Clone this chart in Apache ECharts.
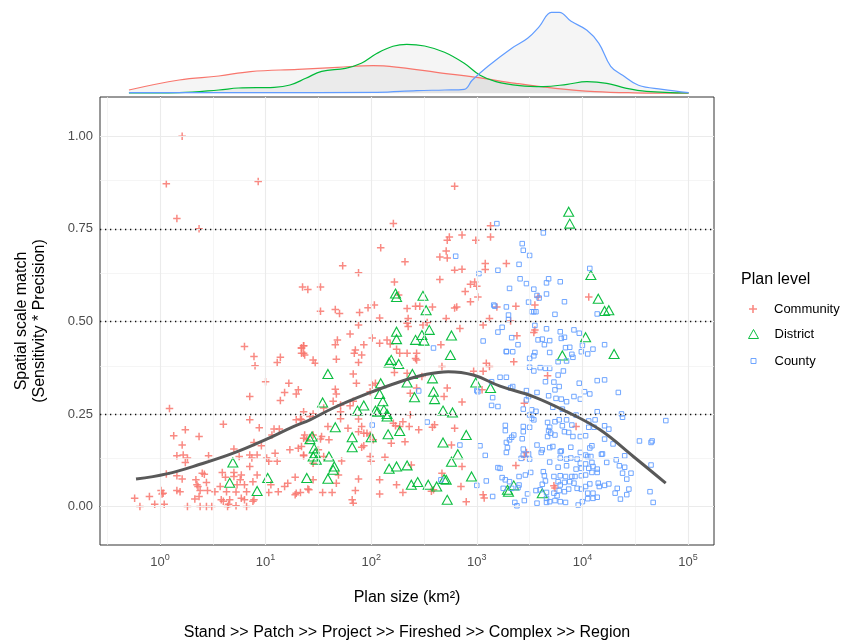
<!DOCTYPE html>
<html><head><meta charset="utf-8">
<script src="https://cdn.jsdelivr.net/npm/echarts@6/dist/echarts.min.js"></script>
<style>html,body{margin:0;padding:0;background:#fff}#c{width:857px;height:640px}</style>
</head><body><div id="c"></div>
<script>
// x = log10(plan size, km²), y = spatial scale match
const communityPts = [[0.21,1.00],[0.06,0.872],[0.93,0.878],[0.16,0.778],[0.37,0.75],[1.35,0.593],[1.40,0.586],
[2.79,0.865],[2.21,0.764],[3.13,0.758],[2.74,0.728],[2.72,0.719],[2.86,0.733],[2.99,0.719],[3.13,0.728],[2.09,0.699],[2.71,0.690],[2.65,0.674],[2.72,0.671],[2.32,0.661],[1.73,0.650],[1.88,0.631],[2.79,0.638],[2.86,0.641],[3.08,0.656],[3.08,0.640],[3.28,0.656],[2.65,0.613],[2.22,0.606],[1.52,0.593],[2.94,0.600],[2.98,0.606],[3.00,0.595],[2.89,0.581],[2.26,0.571],[3.01,0.566],[2.94,0.553],[2.34,0.535],[2.42,0.541],[2.46,0.541],[2.58,0.539],[1.97,0.537],[2.03,0.544],[1.52,0.527],[1.66,0.532],[1.70,0.521],[1.89,0.524],[2.79,0.536],[2.81,0.539],[3.19,0.539],[2.08,0.509],[2.35,0.508],[2.71,0.508],[3.12,0.508],
[3.58,0.566],[4.06,0.566],[3.37,0.541],[3.55,0.544],[3.32,0.501],
[0.80,0.432],[0.89,0.405],[0.90,0.380],[1.14,0.403],[1.11,0.389],[1.34,0.428],[1.36,0.434],[1.36,0.414],[1.00,0.337],[1.22,0.333],[1.18,0.308],[1.31,0.315],[1.29,0.304],[1.14,0.286],[0.85,0.297],[0.09,0.265],[0.85,0.234],[0.60,0.222],[0.94,0.213],[0.24,0.207],[0.13,0.191],[0.37,0.189],[1.08,0.209],[1.13,0.209],[1.06,0.193],[1.29,0.234],[1.33,0.236],[1.36,0.184],[0.21,0.166],[0.89,0.173],[1.31,0.157],[1.23,0.153],[0.96,0.164],[0.70,0.155],[0.16,0.137],[0.22,0.139],[0.26,0.131],[0.24,0.119],[0.46,0.137],[0.75,0.135],[0.85,0.139],[0.87,0.131],[0.92,0.139],[1.01,0.131],[1.03,0.122],[1.09,0.144],[1.11,0.122],[1.36,0.137],[0.85,0.108],[0.06,0.088],[0.16,0.083],[0.21,0.074],[0.40,0.090],[0.42,0.087],[0.59,0.092],[0.62,0.079],[0.70,0.092],[0.70,0.081],[0.77,0.085],[0.76,0.072],[0.92,0.085],[1.05,0.059],[1.28,0.079],[1.41,0.045],[0.34,0.072],[0.35,0.059],[0.36,0.054],[0.44,0.065],[0.57,0.054],[0.73,0.059],[0.80,0.059],[0.88,0.067],[1.21,0.063],[1.18,0.054],[0.38,0.043],[0.45,0.043],[0.52,0.040],[0.63,0.040],[0.72,0.039],[0.82,0.040],[1.03,0.038],[1.12,0.040],[1.29,0.036],[1.33,0.038],[0.16,0.043],[0.19,0.040],[0.01,0.043],[0.03,0.036],[0.02,0.034],[-0.10,0.027],[-0.24,0.022],[-0.19,0.000],[-0.05,0.006],[0.04,0.006],[0.26,0.000],[0.38,0.000],[0.44,0.000],[0.49,0.000],[0.33,0.020],[0.37,0.027],[0.58,0.018],[0.60,0.014],[0.65,0.006],[0.64,0.000],[0.72,0.002],[0.82,0.000],[0.77,0.022],[0.80,0.018],[0.89,0.018],[0.88,0.014],[0.66,0.018],[1.28,0.032],
[1.88,0.490],[2.34,0.495],[2.35,0.486],[2.49,0.490],[2.53,0.497],[2.84,0.481],[3.06,0.490],[1.80,0.466],[2.01,0.455],[2.08,0.441],[2.15,0.450],[2.18,0.439],[1.66,0.437],[1.68,0.450],[1.36,0.434],[1.34,0.428],[1.85,0.423],[1.84,0.414],[1.93,0.437],[1.91,0.409],[2.24,0.425],[2.27,0.414],[2.34,0.414],[2.66,0.437],[2.43,0.414],[2.42,0.400],[1.34,0.414],[1.37,0.409],[1.45,0.396],[1.47,0.387],[1.67,0.398],[1.88,0.389],[2.43,0.396],[2.67,0.378],[2.22,0.362],[1.83,0.358],[2.34,0.360],[2.48,0.351],[2.97,0.365],[3.09,0.387],[3.12,0.378],[3.06,0.365],[1.86,0.333],[2.01,0.328],[2.04,0.333],[2.72,0.320],[2.43,0.320],[3.05,0.315],[2.37,0.306],[1.66,0.317],[1.67,0.304],[1.99,0.310],[2.69,0.297],[2.86,0.282],[1.64,0.284],[1.71,0.274],[1.83,0.284],[1.80,0.272],[1.55,0.266],[1.71,0.256],[1.36,0.256],[1.45,0.250],[1.42,0.243],[2.37,0.248],[1.88,0.236],[1.71,0.237],[1.34,0.234],[2.21,0.225],[2.23,0.218],[2.27,0.216],[2.36,0.216],[2.60,0.221],[2.58,0.214],[2.79,0.211],[2.30,0.229],[1.59,0.216],[1.91,0.216],[1.78,0.211],[1.88,0.202],[1.93,0.198],[1.96,0.198],[1.99,0.193],[2.45,0.207],[1.45,0.193],[1.37,0.193],[1.39,0.180],[1.52,0.182],[1.53,0.189],[1.60,0.180],[2.02,0.180],[1.91,0.160],[1.93,0.164],[2.19,0.171],[2.32,0.175],[2.76,0.166],[1.34,0.162],[1.36,0.139],[1.50,0.153],[1.55,0.135],[1.72,0.123],[1.99,0.135],[2.00,0.122],[2.13,0.133],[1.45,0.117],[2.38,0.112],[2.86,0.108],[1.69,0.085],[1.67,0.063],[1.45,0.072],[1.88,0.074],[2.08,0.072],[2.67,0.090],[2.24,0.059],[2.59,0.045],[2.57,0.041],[2.85,0.054],[1.40,0.047],[1.54,0.038],[1.63,0.038],[1.85,0.043],[2.30,0.038],[2.08,0.034],[1.82,0.018],[1.83,0.009],[2.90,0.013],[3.06,0.032],[3.07,0.023],
[3.55,0.477],[3.54,0.470],[3.38,0.461],[3.35,0.391],[3.67,0.353],[3.45,0.279],[3.94,0.216],[3.47,0.146],[3.45,0.135],[3.37,0.111],[3.73,0.056],[3.74,0.050]];

const districtPts = [[3.87,0.796],[3.88,0.764],[4.08,0.625],[4.15,0.561],[4.21,0.528],[4.25,0.530],
[2.24,0.566],[2.23,0.575],[2.49,0.569],[2.52,0.530],
[0.69,0.119],[1.02,0.077],[1.39,0.077],[0.66,0.064],[0.92,0.042],
[2.24,0.472],[2.55,0.477],[2.48,0.463],[2.42,0.450],[2.50,0.448],[2.76,0.462],[2.24,0.452],[2.75,0.409],[2.19,0.396],[2.17,0.389],[2.26,0.385],[1.59,0.358],[2.39,0.358],[2.58,0.346],[2.99,0.335],[3.13,0.320],[2.09,0.333],[2.34,0.335],[2.59,0.310],[2.60,0.290],[2.41,0.295],[2.08,0.304],[1.54,0.281],[2.11,0.284],[1.93,0.273],[1.87,0.259],[2.04,0.259],[2.06,0.256],[2.12,0.261],[2.15,0.250],[2.15,0.243],[2.68,0.259],[2.77,0.254],[1.66,0.214],[2.16,0.195],[2.27,0.204],[2.90,0.193],[1.44,0.189],[1.42,0.182],[1.82,0.187],[1.82,0.160],[2.00,0.187],[2.68,0.173],[1.46,0.157],[1.47,0.144],[1.48,0.126],[1.45,0.135],[1.60,0.135],[2.82,0.141],[2.76,0.121],[1.65,0.108],[1.64,0.099],[2.17,0.102],[2.24,0.108],[2.34,0.111],[1.59,0.075],[2.69,0.074],[2.71,0.072],[2.95,0.081],[2.38,0.059],[2.44,0.066],[2.54,0.059],[2.62,0.054],[2.72,0.018],[3.29,0.045],
[4.03,0.457],[3.81,0.408],[4.30,0.412],[3.35,0.057],[3.30,0.040],[3.62,0.036]];

const countyPts = [[3.19,0.764],[2.80,0.676],[3.20,0.638],[3.02,0.629],[3.31,0.589],[3.16,0.544],[3.17,0.541],[3.28,0.539],[3.30,0.517],
[3.63,0.739],[3.43,0.710],[3.44,0.692],[3.50,0.678],[3.40,0.654],[4.07,0.643],[3.41,0.615],[3.68,0.615],[3.66,0.604],[3.79,0.607],[3.47,0.602],[3.54,0.587],[3.57,0.570],[3.59,0.563],[3.66,0.574],[3.83,0.553],[3.49,0.552],[3.52,0.526],[3.54,0.526],[3.56,0.526],[4.14,0.520],[3.74,0.519],[3.30,0.505],
[3.24,0.484],[3.20,0.471],[3.06,0.447],[2.59,0.428],[3.28,0.419],[3.22,0.349],[3.28,0.349],[3.14,0.337],[2.45,0.312],[3.01,0.310],[3.00,0.313],[3.15,0.294],[3.14,0.273],[3.20,0.270],[2.53,0.228],[2.01,0.220],[2.84,0.166],[3.03,0.164],[3.08,0.138],[3.20,0.105],[2.66,0.072],[3.09,0.069],[3.00,0.057],[3.15,0.027],
[3.55,0.489],[3.66,0.480],[3.79,0.472],[3.92,0.477],[3.97,0.468],[3.33,0.456],[3.58,0.450],[3.62,0.452],[3.69,0.448],[3.80,0.454],[3.83,0.457],[3.39,0.437],[3.64,0.437],[4.21,0.437],[4.00,0.435],[3.84,0.429],[3.88,0.430],[4.10,0.425],[3.28,0.418],[3.34,0.418],[3.55,0.416],[3.54,0.407],[3.69,0.416],[3.99,0.418],[4.05,0.412],[3.90,0.411],[3.91,0.403],[3.50,0.400],[3.77,0.391],[3.85,0.393],[3.50,0.376],[3.54,0.366],[3.60,0.375],[3.65,0.373],[3.69,0.373],[3.82,0.366],[3.77,0.355],[3.65,0.337],[3.73,0.336],[3.97,0.333],[4.14,0.340],[4.21,0.342],[3.34,0.324],[3.32,0.320],[3.74,0.315],[3.78,0.324],[3.47,0.313],[3.57,0.308],[4.02,0.310],[4.07,0.304],[3.92,0.297],[3.98,0.290],[4.34,0.308],[3.68,0.299],[3.75,0.292],[3.80,0.290],[3.85,0.283],[3.49,0.297],[3.47,0.288],[3.72,0.268],[3.81,0.263],[3.44,0.263],[3.52,0.261],[3.56,0.257],[4.14,0.256],[3.94,0.247],[4.37,0.250],[4.38,0.241],[4.79,0.232],[3.50,0.247],[3.52,0.238],[3.54,0.234],[3.78,0.234],[3.85,0.234],[3.67,0.227],[3.74,0.229],[4.06,0.231],[4.12,0.234],[3.27,0.219],[3.44,0.216],[3.50,0.214],[3.69,0.214],[3.81,0.218],[3.90,0.220],[4.06,0.214],[4.11,0.214],[4.21,0.218],[4.25,0.209],[3.27,0.205],[3.35,0.193],[3.33,0.187],[3.31,0.180],[3.44,0.202],[3.43,0.183],[3.68,0.205],[3.70,0.198],[3.74,0.193],[3.67,0.189],[3.83,0.202],[3.87,0.200],[3.91,0.189],[3.98,0.189],[4.03,0.191],[4.21,0.182],[3.28,0.173],[3.29,0.159],[3.28,0.146],[3.57,0.166],[3.69,0.159],[3.72,0.162],[3.62,0.153],[3.61,0.146],[3.80,0.150],[3.89,0.160],[4.07,0.158],[4.09,0.164],[4.29,0.169],[4.54,0.177],[4.65,0.173],[4.66,0.177],[3.44,0.155],[3.44,0.139],[3.49,0.142],[3.50,0.128],[3.42,0.130],[3.98,0.146],[4.03,0.139],[4.05,0.135],[4.18,0.141],[4.19,0.142],[3.79,0.148],[3.79,0.131],[3.85,0.128],[3.89,0.131],[3.95,0.128],[4.08,0.135],[4.09,0.119],[4.32,0.126],[3.69,0.120],[4.03,0.115],[3.98,0.117],[4.23,0.119],[4.40,0.137],[4.35,0.110],[4.40,0.106],[3.77,0.106],[3.85,0.110],[3.94,0.101],[3.99,0.103],[4.06,0.103],[4.10,0.108],[4.14,0.101],[4.09,0.092],[4.14,0.092],[4.65,0.112],[3.51,0.092],[3.46,0.085],[3.40,0.081],[3.63,0.094],[3.64,0.083],[3.22,0.103],[4.46,0.090],[4.38,0.090],[4.42,0.074],[3.73,0.081],[3.79,0.083],[3.84,0.081],[3.90,0.081],[3.93,0.081],[3.99,0.083],[4.03,0.085],[3.24,0.078],[3.27,0.072],[3.31,0.067],[3.25,0.049],[3.33,0.049],[3.40,0.058],[3.39,0.051],[3.65,0.069],[3.62,0.060],[3.60,0.045],[3.77,0.067],[3.83,0.065],[3.79,0.058],[3.88,0.067],[3.92,0.063],[4.07,0.061],[4.15,0.063],[4.16,0.054],[4.21,0.057],[4.25,0.061],[3.95,0.049],[3.87,0.047],[4.03,0.054],[4.33,0.049],[4.44,0.047],[4.64,0.040],[3.56,0.043],[3.48,0.034],[3.66,0.038],[3.73,0.036],[3.76,0.029],[3.83,0.040],[3.78,0.043],[3.99,0.047],[4.05,0.036],[4.10,0.036],[4.14,0.025],[4.10,0.022],[4.31,0.036],[4.42,0.032],[4.36,0.020],[3.45,0.016],[3.36,0.011],[3.38,0.002],[3.57,0.009],[3.66,0.011],[3.69,0.013],[3.74,0.016],[3.79,0.013],[3.84,0.011],[4.05,0.021],[4.00,0.013],[3.96,0.004],[4.67,0.011],[3.66,0.022]];

// smoothed trend (log10 size, match)
const smoothFit = [[-0.227,0.074],[0.063,0.088],[0.379,0.114],[0.694,0.144],[1.010,0.182],[1.263,0.216],[1.420,0.234],[1.641,0.266],[1.957,0.304],[2.273,0.337],[2.525,0.357],[2.730,0.364],[2.967,0.355],[3.220,0.325],[3.535,0.297],[3.851,0.256],[4.167,0.207],[4.482,0.135],[4.789,0.063]];

// marginal densities (relative heights)
const densCommunity = [[-0.294,3.3],[0.182,13.3],[0.557,17.3],[0.857,21.7],[1.306,24],[1.681,26],[2.019,27.7],[2.281,25.7],[2.619,21],[2.994,16],[3.368,10],[3.743,5],[4.118,1.7],[4.493,0.5],[5.006,0.1]];
const densDistrict = [[-0.294,0.3],[0.182,0.7],[0.557,3.3],[0.744,5.3],[1.081,6],[1.231,8.3],[1.381,15],[1.531,22],[1.756,25],[1.906,30],[2.056,40],[2.206,47],[2.337,49],[2.506,47.3],[2.694,41],[2.881,30],[3.031,18],[3.181,11.7],[3.406,7.7],[3.631,6.7],[3.856,9],[4.043,11.7],[4.231,10],[4.418,5],[4.605,2],[5.006,0.3]];
const densCounty = [[-0.294,0.7],[0.932,0.7],[2.056,1],[2.431,2.7],[2.694,3.3],[2.881,4],[2.956,13],[3.106,27],[3.331,45],[3.481,55],[3.593,67],[3.706,81],[3.781,81],[3.893,72],[4.043,63],[4.156,50],[4.268,27],[4.381,18],[4.531,8],[4.756,4],[5.006,0.7]];

const planLevels = ['Community','District','County'];
const levelColors = ['#F8766D','#00BA38','#619CFF'];
const xTickExp = [0,1,2,3,4,5];
const xMinorExp = [-0.5,0.5,1.5,2.5,3.5,4.5];
const yTicks = [0,0.25,0.5,0.75,1];
const yMinor = [0.125,0.375,0.625,0.875];
const refLines = [0.25,0.5,0.75];

const FONT = '"Liberation Sans", Arial, Helvetica, sans-serif';
const crossPath = 'path://M4,0H6V10H4ZM0,4H10V6H0Z';
const X_MIN = -0.568, X_MAX = 5.246, Y_MIN = -0.104, Y_MAX = 1.106;

const gridLines = [];
xMinorExp.forEach(v => gridLines.push({xAxis: v, lineStyle: {color: '#F0F0F0', width: 0.7, type: 'solid'}}));
yMinor.forEach(v => gridLines.push({yAxis: v, lineStyle: {color: '#F0F0F0', width: 0.7, type: 'solid'}}));
xTickExp.forEach(v => gridLines.push({xAxis: v, lineStyle: {color: '#EBEBEB', width: 1.1, type: 'solid'}}));
yTicks.forEach(v => gridLines.push({yAxis: v, lineStyle: {color: '#EBEBEB', width: 1.1, type: 'solid'}}));
refLines.forEach(v => gridLines.push({yAxis: v, lineStyle: {color: '#111', width: 1.3, type: [1.3, 3.7]}}));

const chart = echarts.init(document.getElementById('c'), null, {renderer: 'canvas'});
const axisGrey = '#4D4D4D';

const option = {
  animation: false,
  backgroundColor: '#fff',
  textStyle: {fontFamily: FONT},
  grid: [
    {left: 100, top: 97, width: 614, height: 448, show: true, borderColor: '#333', borderWidth: 1, backgroundColor: 'transparent'},
    {left: 100, top: 3.3, width: 614, height: 90}
  ],
  xAxis: [
    {gridIndex: 0, type: 'value', min: X_MIN, max: X_MAX,
     axisLine: {show: true, lineStyle: {color: '#333', width: 1}},
     axisTick: {show: true, length: 4, customValues: xTickExp, lineStyle: {color: '#333', width: 1}},
     axisLabel: {customValues: xTickExp, margin: 8,
       formatter: v => '{b|10}{s|' + Math.round(v) + '}',
       rich: {b: {fontSize: 13, lineHeight: 18, color: axisGrey, fontFamily: FONT},
              s: {fontSize: 9, lineHeight: 6, verticalAlign: 'top', color: axisGrey, fontFamily: FONT}}},
     splitLine: {show: false},
     name: 'Plan size (km²)', nameLocation: 'middle', nameGap: 45,
     nameTextStyle: {fontSize: 16, color: '#000', fontFamily: FONT}},
    {gridIndex: 1, type: 'value', min: X_MIN, max: X_MAX, show: false}
  ],
  yAxis: [
    {gridIndex: 0, type: 'value', min: Y_MIN, max: Y_MAX,
     axisLine: {show: true, lineStyle: {color: '#333', width: 1}},
     axisTick: {show: true, length: 4, customValues: yTicks, lineStyle: {color: '#333', width: 1}},
     axisLabel: {customValues: yTicks, margin: 7, fontSize: 13, color: axisGrey, fontFamily: FONT,
       formatter: v => v.toFixed(2)},
     splitLine: {show: false},
     name: 'Spatial scale match\n(Sensitivity * Precision)', nameLocation: 'middle', nameRotate: 90, nameGap: 51,
     nameTextStyle: {fontSize: 16, lineHeight: 18, color: '#000', fontFamily: FONT, align: 'center'}},
    {gridIndex: 1, type: 'value', min: 0, max: 90, show: false}
  ],
  legend: [
    {data: [{name: 'Community', icon: crossPath, itemStyle: {color: levelColors[0]}}],
     left: 749, top: 302.5, itemWidth: 8, itemHeight: 8, padding: 0, selectedMode: false,
     textStyle: {fontSize: 13, color: '#000', fontFamily: FONT, padding: [0, 0, 0, 12]}},
    {data: [{name: 'District', icon: 'triangle', itemStyle: {color: 'rgba(0,0,0,0)', borderColor: levelColors[1], borderWidth: 1}}],
     left: 748, top: 327.5, itemWidth: 10, itemHeight: 9, padding: 0, selectedMode: false,
     textStyle: {fontSize: 13, color: '#000', fontFamily: FONT, padding: [0, 0, 0, 11]}},
    {data: [{name: 'County', icon: 'rect', itemStyle: {color: 'rgba(0,0,0,0)', borderColor: levelColors[2], borderWidth: 1}}],
     left: 750.5, top: 354.5, itemWidth: 5, itemHeight: 5, padding: 0, selectedMode: false,
     textStyle: {fontSize: 13, color: '#000', fontFamily: FONT, padding: [0, 0, 0, 13.5]}}
  ],
  graphic: [
    {type: 'text', left: 741, top: 272, silent: true,
     style: {text: 'Plan level', fontSize: 16, fill: '#000', fontFamily: FONT}},
    {type: 'text', x: 407, y: 633, silent: true,
     style: {text: 'Stand >> Patch >> Project >> Fireshed >> Complex >> Region', fontSize: 16, fill: '#000', fontFamily: FONT, align: 'center', verticalAlign: 'middle'}}
  ],
  series: [
    {name: 'grid', type: 'line', xAxisIndex: 0, yAxisIndex: 0, data: [], silent: true, z: 1,
     markLine: {silent: true, symbol: ['none', 'none'], label: {show: false}, animation: false, emphasis: {disabled: true}, data: gridLines}},
    {name: planLevels[0], type: 'scatter', xAxisIndex: 0, yAxisIndex: 0, data: communityPts, z: 3,
     symbol: crossPath, symbolSize: 7.5, itemStyle: {color: levelColors[0], opacity: 0.85}},
    {name: planLevels[1], type: 'scatter', xAxisIndex: 0, yAxisIndex: 0, data: districtPts, z: 3,
     symbol: 'triangle', symbolSize: [10, 9], itemStyle: {color: 'rgba(0,0,0,0)', borderColor: levelColors[1], borderWidth: 1.1, opacity: 0.95}},
    {name: planLevels[2], type: 'scatter', xAxisIndex: 0, yAxisIndex: 0, data: countyPts, z: 3,
     symbol: 'rect', symbolSize: 4.5, itemStyle: {color: 'rgba(0,0,0,0)', borderColor: levelColors[2], borderWidth: 1, opacity: 0.9}},
    {name: 'trend', type: 'line', xAxisIndex: 0, yAxisIndex: 0, data: smoothFit, smooth: 0.4, showSymbol: false, z: 5,
     lineStyle: {color: '#595959', width: 3}, silent: true},
    {name: 'Community density', type: 'line', xAxisIndex: 1, yAxisIndex: 1, data: densCommunity, smooth: 0.4, showSymbol: false,
     lineStyle: {color: levelColors[0], width: 1.2}, areaStyle: {color: 'rgba(120,120,120,0.1)'}, silent: true},
    {name: 'District density', type: 'line', xAxisIndex: 1, yAxisIndex: 1, data: densDistrict, smooth: 0.4, showSymbol: false,
     lineStyle: {color: levelColors[1], width: 1.2}, areaStyle: {color: 'rgba(120,120,120,0.1)'}, silent: true},
    {name: 'County density', type: 'line', xAxisIndex: 1, yAxisIndex: 1, data: densCounty, smooth: 0.4, showSymbol: false,
     lineStyle: {color: levelColors[2], width: 1.2}, areaStyle: {color: 'rgba(120,120,120,0.1)'}, silent: true}
  ]
};
chart.setOption(option);
</script>
</body></html>
